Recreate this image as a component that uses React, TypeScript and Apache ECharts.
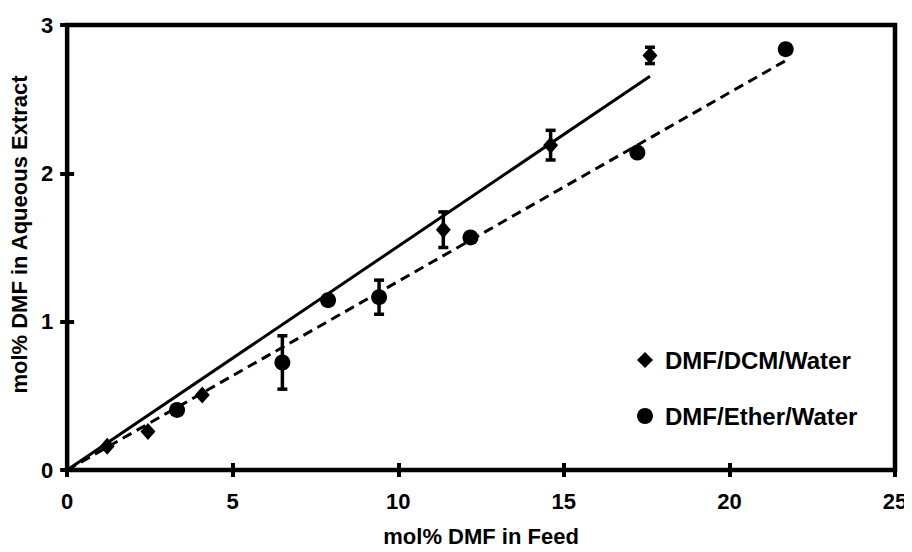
import React, { useEffect, useRef } from "react";
import * as echarts from "echarts";

// DMF/DCM/Water (diamonds)
const dcmX = [1.21, 2.44, 4.08, 11.36, 14.6, 17.6];
const dcmY = [0.16, 0.26, 0.505, 1.62, 2.19, 2.795];
const dcmErr = [0, 0, 0, 0.12, 0.1, 0.055];

// DMF/Ether/Water (circles)
const etherX = [3.32, 6.5, 7.88, 9.42, 12.18, 17.22, 21.7];
const etherY = [0.405, 0.725, 1.145, 1.165, 1.568, 2.14, 2.837];
const etherErr = [0, 0.18, 0, 0.115, 0, 0, 0];

// Fitted lines (start and end points)
const dcmFitX = [0, 17.6];
const dcmFitY = [0, 2.655];
const etherFitX = [0, 21.7];
const etherFitY = [0, 2.76];

const xTicks = { min: 0, max: 25, interval: 5 };
const yTicks = { min: 0, max: 3, interval: 1 };

const seriesNames = ["DMF/DCM/Water", "DMF/Ether/Water"];
const xTitle = "mol% DMF in Feed";
const yTitle = "mol% DMF in Aqueous Extract";

const FONT = "'Liberation Sans', Arial, sans-serif";

const zip = (xs: number[], ys: number[]) => xs.map((x, i) => [x, ys[i]]);
const errData = (xs: number[], ys: number[], es: number[]) =>
  xs.map((x, i) => [x, ys[i], es[i]]).filter((d) => d[2] > 0);

export default function App() {
  const ref = useRef<HTMLDivElement>(null);
  useEffect(() => {
    if (!ref.current) return;
    const chart = echarts.init(ref.current, null, { renderer: "svg" });
    const renderErr = (params: any, api: any) => {
      const x = api.value(0);
      const y = api.value(1);
      const e = api.value(2);
      const top = api.coord([x, y + e]);
      const bot = api.coord([x, y - e]);
      const hw = 5;
      const st = { stroke: "#000", lineWidth: 3.5 };
      return {
        type: "group",
        children: [
          { type: "line", shape: { x1: top[0], y1: top[1], x2: bot[0], y2: bot[1] }, style: st },
          { type: "line", shape: { x1: top[0] - hw, y1: top[1], x2: top[0] + hw, y2: top[1] }, style: st },
          { type: "line", shape: { x1: bot[0] - hw, y1: bot[1], x2: bot[0] + hw, y2: bot[1] }, style: st },
        ],
      };
    };
    const axisCommon = {
      type: "value",
      splitLine: { show: false },
      axisLine: { show: false },
      axisTick: { show: true, inside: true, length: 7, lineStyle: { color: "#000", width: 4 } },
    };
    chart.setOption({
      animation: false,
      backgroundColor: "#fff",
      grid: {
        left: 65,
        right: 17,
        top: 25,
        bottom: 80,
        show: true,
        borderColor: "#000",
        borderWidth: 4.5,
        backgroundColor: "transparent",
      },
      legend: {
        orient: "vertical",
        left: 632,
        top: 343,
        itemWidth: 16,
        itemHeight: 16,
        itemGap: 32,
        itemStyle: { opacity: 1, color: "#000" },
        textStyle: {
          fontFamily: FONT,
          fontSize: 24,
          fontWeight: "bold",
          color: "#000",
          padding: [0, 0, 0, 7],
        },
        data: [
          { name: seriesNames[0], icon: "diamond" },
          { name: seriesNames[1], icon: "circle" },
        ],
      },
      xAxis: [
        {
          ...axisCommon,
          position: "bottom",
          ...xTicks,
          name: xTitle,
          nameLocation: "middle",
          nameGap: 55,
          nameTextStyle: { fontFamily: FONT, fontSize: 22, fontWeight: "bold", color: "#000" },
          axisLabel: { fontFamily: FONT, fontSize: 22, fontWeight: "bold", color: "#000", margin: 20 },
        },
        {
          ...axisCommon,
          position: "top",
          ...xTicks,
          axisLabel: { show: false },
        },
      ],
      yAxis: [
        {
          ...axisCommon,
          position: "left",
          ...yTicks,
          name: yTitle,
          nameLocation: "middle",
          nameGap: 23,
          nameTextStyle: {
            fontFamily: FONT,
            fontSize: 22,
            fontWeight: "bold",
            color: "#000",
            padding: [0, 0, 0, 26],
          },
          axisLabel: { fontFamily: FONT, fontSize: 22, fontWeight: "bold", color: "#000", margin: 14 },
        },
        {
          ...axisCommon,
          position: "right",
          ...yTicks,
          axisLabel: { show: false },
        },
      ],
      series: [
        {
          name: "fit-dcm",
          type: "line",
          data: zip(dcmFitX, dcmFitY),
          symbol: "none",
          lineStyle: { color: "#000", width: 3 },
          silent: true,
        },
        {
          name: "fit-ether",
          type: "line",
          data: zip(etherFitX, etherFitY),
          symbol: "none",
          lineStyle: { color: "#000", width: 3, type: [10, 6] },
          silent: true,
        },
        {
          name: "err-dcm",
          type: "custom",
          renderItem: renderErr,
          encode: { x: 0, y: 1 },
          data: errData(dcmX, dcmY, dcmErr),
          z: 3,
        },
        {
          name: "err-ether",
          type: "custom",
          renderItem: renderErr,
          encode: { x: 0, y: 1 },
          data: errData(etherX, etherY, etherErr),
          z: 3,
        },
        {
          name: seriesNames[0],
          type: "scatter",
          symbol: "diamond",
          symbolSize: [15, 17],
          itemStyle: { color: "#000", opacity: 1 },
          data: zip(dcmX, dcmY),
          z: 4,
        },
        {
          name: seriesNames[1],
          type: "scatter",
          symbol: "circle",
          symbolSize: 16,
          itemStyle: { color: "#000", opacity: 1 },
          data: zip(etherX, etherY),
          z: 4,
        },
      ],
    });
    return () => chart.dispose();
  }, []);
  return <div ref={ref} style={{ width: 912, height: 552, margin: -8 }} />;
}
